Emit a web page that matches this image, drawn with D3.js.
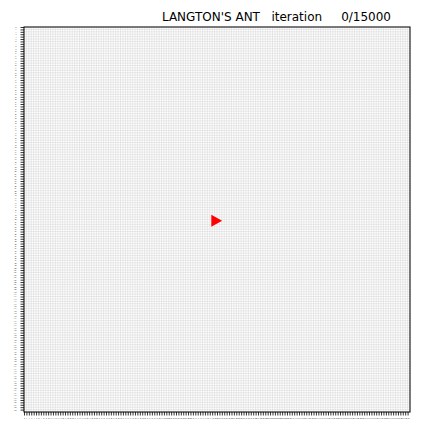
<!DOCTYPE html>
<html><head><meta charset="utf-8">
<script src="https://cdn.jsdelivr.net/npm/d3@7"></script>
<style>body{margin:0;background:#fff}svg{display:block}text{font-family:"DejaVu Sans",sans-serif}</style>
</head><body>
<script>
const gridSize = 160;
const iteration = 0;
const totalIterations = 15000;
const antPos = [80, 80];
const antDir = ["right"];
const blackCells = [];

const W = 432, H = 432;
const m = {left: 24, right: 22, top: 27, bottom: 20};
const svg = d3.select("body").append("svg").attr("width", W).attr("height", H);
const x = d3.scaleLinear().domain([0, gridSize]).range([m.left, W - m.right]);
const y = d3.scaleLinear().domain([0, gridSize]).range([m.top, H - m.bottom]);
const idx = d3.range(gridSize + 1);

const g = svg.append("g");
g.selectAll("line.v").data(idx).join("line").attr("class","v")
  .attr("x1", d => x(d)).attr("x2", d => x(d)).attr("y1", y(0)).attr("y2", y(gridSize))
  .attr("stroke", "#cfcfcf").attr("stroke-width", 0.45);
g.selectAll("line.h").data(idx).join("line").attr("class","h")
  .attr("y1", d => y(d)).attr("y2", d => y(d)).attr("x1", x(0)).attr("x2", x(gridSize))
  .attr("stroke", "#cfcfcf").attr("stroke-width", 0.45);

g.selectAll("rect.c").data(blackCells).join("rect")
  .attr("x", d => x(d[0])).attr("y", d => y(d[1]))
  .attr("width", x(1) - x(0)).attr("height", y(1) - y(0)).attr("fill", "#000");

const ticks = d3.range(gridSize);
const xAxis = d3.axisBottom(x).tickValues(ticks).tickSize(3.5).tickPadding(3).tickFormat(d3.format("d"));
const yAxis = d3.axisLeft(y).tickValues(ticks).tickSize(3.5).tickPadding(4).tickFormat(d3.format("d"));
const gx = svg.append("g").attr("transform", `translate(0,${y(gridSize)})`).call(xAxis);
const gy = svg.append("g").attr("transform", `translate(${x(0)},0)`).call(yAxis);
[gx, gy].forEach(a => {
  a.select(".domain").remove();
  a.selectAll(".tick line").attr("stroke", "#000").attr("stroke-width", 0.8);
  a.selectAll(".tick text").attr("font-size", 1.4).attr("fill", "#000");
});

svg.append("rect").attr("x", x(0)).attr("y", y(0))
  .attr("width", x(gridSize) - x(0)).attr("height", y(gridSize) - y(0))
  .attr("fill", "none").attr("stroke", "#000").attr("stroke-width", 1);

const cx = x(antPos[0] + 0.5), cy = y(antPos[1] + 0.5);
const s = 6;
svg.append("path")
  .attr("d", `M${-s},${-s}L${s},0L${-s},${s}Z`)
  .attr("transform", `translate(${cx - 1.5},${cy})scale(0.9,1)`)
  .attr("fill", "red");

svg.append("text").attr("x", 391).attr("y", 21).attr("text-anchor", "end")
  .attr("font-size", 12).attr("fill", "#000").style("white-space", "pre")
  .text(`LANGTON'S ANT   iteration     ${iteration}/${totalIterations}`);
</script>
</body></html>
